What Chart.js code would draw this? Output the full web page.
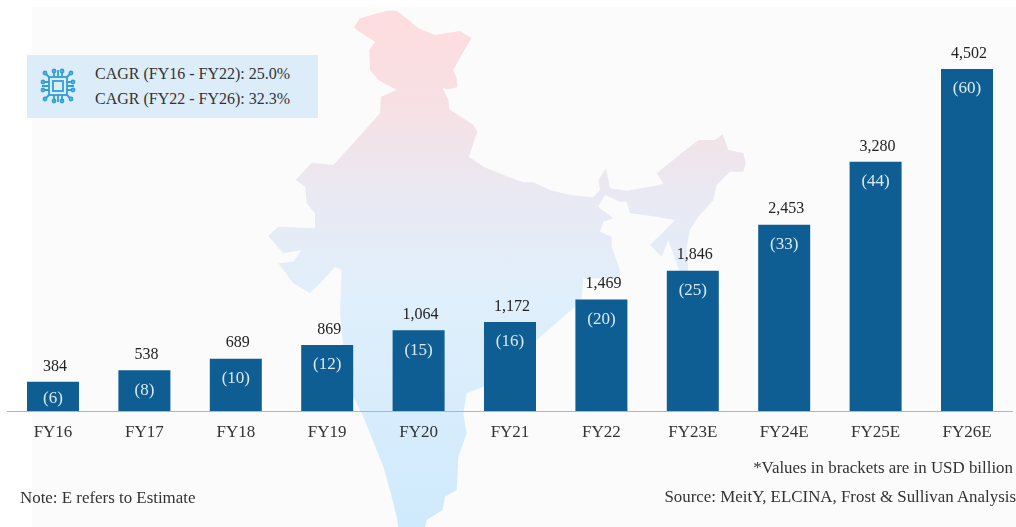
<!DOCTYPE html>
<html>
<head>
<meta charset="utf-8">
<title>Chart</title>
<script src="https://cdn.jsdelivr.net/npm/chart.js@4/dist/chart.umd.min.js"></script>
<style>
  html, body { margin: 0; padding: 0; background: #fff; }
  #stage { position: relative; width: 1016px; height: 527px; overflow: hidden; font-family: "Liberation Serif", serif; color: #333; }
  #paper { position: absolute; left: 32px; top: 7px; right: 0; bottom: 0; background: #fbfbfb; }
  #map { position: absolute; left: 0; top: 0; }
  #chart { position: absolute; left: 0; top: 0; }
  .cagr { position: absolute; left: 27px; top: 55px; width: 291px; height: 63px; background: #dcedf9; }
  .cagr svg { position: absolute; left: 12px; top: 12px; }
  .cagr div { position: absolute; left: 68px; font-size: 16px; line-height: 20px; white-space: nowrap; }
  .note { position: absolute; white-space: nowrap; line-height: 20px; font-size: 16.9px; }
</style>
</head>
<body>
<div id="stage">
  <div id="paper"></div>

  <!-- India silhouette behind the bars -->
  <svg id="map" width="1016" height="527">
    <defs>
      <linearGradient id="mapFill" x1="0" y1="0" x2="0" y2="1">
        <stop offset="0" stop-color="#fedcdf"/>
        <stop offset="0.18" stop-color="#f7e0e4"/>
        <stop offset="0.36" stop-color="#e9e9f3"/>
        <stop offset="0.55" stop-color="#e0effb"/>
        <stop offset="1" stop-color="#cfeafd"/>
      </linearGradient>
    </defs>
    <polygon fill="url(#mapFill)" transform="translate(250 0) scale(0.33333)" points="
      312,82 330,55 375,42 410,32 440,32 470,55 505,85 555,105 630,93 665,115 640,155 610,210 620,235 622,262
      595,268 578,265 595,300 598,328 625,345 670,375 682,395 670,430 657,470 700,500 760,525 820,547 850,547
      900,570 960,585 1030,592 1050,570 1045,540 1068,505 1080,565 1130,572 1230,555 1240,550 1220,520 1300,455
      1345,420 1395,420 1418,403 1435,450 1480,460 1487,490 1480,515 1440,515 1400,555 1390,600 1345,650 1320,690
      1310,740 1315,815 1290,815 1280,790 1255,720 1235,770 1200,735 1275,660 1220,650 1140,640 1130,605 1110,605
      1065,585 1045,620 1090,655 1060,665 1050,695 1085,710 1085,740 1110,810 1108,835 1000,835 995,895 975,920
      860,1020 700,1160 650,1180 640,1240 650,1300 625,1370 620,1470 585,1490 578,1530 530,1560 525,1581 445,1581
      440,1550 425,1490 400,1400 340,1250 310,1190 280,1040 270,940 275,810 255,800 215,845 180,880 130,850 85,790
      130,785 155,750 100,760 65,720 55,708 85,680 195,685 195,640 170,610 165,560 137,540 185,488 250,495 300,440
      390,340 393,290 440,270 385,240 360,210 358,150 375,125 320,90"/>
  </svg>

  <canvas id="chart" width="1016" height="527"></canvas>

  <div class="cagr">
    <svg width="38" height="38" viewBox="0 0 38 38" fill="none" stroke="#2f9ed8" stroke-width="1.8">
      <rect x="10" y="10" width="18" height="18"/>
      <rect x="14" y="14" width="10" height="10"/>
      <path d="M15 10V5M19 10V3M23 10V5M15 28V33M19 28V35M23 28V33M10 15H5M10 19H3M10 23H5M28 15H33M28 19H35M28 23H33"/>
      <path d="M10 10L7 7M28 10L31 7M10 28L7 31M28 28L31 31"/>
      <circle cx="15" cy="4" r="1.5"/><circle cx="23" cy="4" r="1.5"/><circle cx="15" cy="34" r="1.5"/><circle cx="23" cy="34" r="1.5"/>
      <circle cx="4" cy="15" r="1.5"/><circle cx="4" cy="23" r="1.5"/><circle cx="34" cy="15" r="1.5"/><circle cx="34" cy="23" r="1.5"/>
      <circle cx="6" cy="6" r="1.5"/><circle cx="32" cy="6" r="1.5"/><circle cx="6" cy="32" r="1.5"/><circle cx="32" cy="32" r="1.5"/>
    </svg>
    <div style="top:9px">CAGR (FY16 - FY22): 25.0%</div>
    <div style="top:34px">CAGR (FY22 - FY26): 32.3%</div>
  </div>

  <div class="note" style="right:3px; top:458px">*Values in brackets are in USD billion</div>
  <div class="note" style="right:0; top:487px">Source: MeitY, ELCINA, Frost &amp; Sullivan Analysis</div>
  <div class="note" style="left:20px; top:488px">Note: E refers to Estimate</div>
</div>

<script>
// --- Chart data ---
const categories = ['FY16', 'FY17', 'FY18', 'FY19', 'FY20', 'FY21', 'FY22', 'FY23E', 'FY24E', 'FY25E', 'FY26E'];
const marketValues = [384, 538, 689, 869, 1064, 1172, 1469, 1846, 2453, 3280, 4502];
const usdValues = [6, 8, 10, 12, 15, 16, 20, 25, 33, 44, 60];
const yMax = 5410;

const serif = '"Liberation Serif", serif';

// draws the number above each bar and the USD figure inside it
const barLabels = {
  id: 'barLabels',
  afterDatasetsDraw(chart) {
    const ctx = chart.ctx;
    const bars = chart.getDatasetMeta(0).data;
    ctx.save();
    ctx.textAlign = 'center';
    ctx.textBaseline = 'middle';
    bars.forEach((bar, i) => {
      ctx.font = '16px ' + serif;
      ctx.fillStyle = '#222';
      ctx.fillText(marketValues[i].toLocaleString('en-US'), bar.x + 2, bar.y - 15.5);

      ctx.font = '17px ' + serif;
      ctx.fillStyle = '#dbe9f2';
      const drop = Math.min(20, (bar.base - bar.y) / 2 + 2);
      ctx.fillText('(' + usdValues[i] + ')', bar.x, bar.y + drop);
    });
    ctx.restore();
  }
};

new Chart(document.getElementById('chart'), {
  type: 'bar',
  data: {
    labels: categories,
    datasets: [{
      data: marketValues,
      backgroundColor: '#0f5e93',
      barPercentage: 0.569,
      categoryPercentage: 1
    }]
  },
  options: {
    responsive: false,
    animation: false,
    layout: { padding: { left: 7.3, right: 3.3, top: 0, bottom: 0 } },
    plugins: {
      legend: { display: false },
      tooltip: { enabled: false }
    },
    scales: {
      x: {
        afterFit(scale) { scale.height = 116; },
        grid: { display: false },
        border: { color: '#b5b5b5', width: 1 },
        ticks: {
          color: '#333',
          padding: 3,
          maxRotation: 0,
          autoSkip: false,
          font: { family: serif, size: 17 }
        }
      },
      y: { display: false, min: 0, max: yMax }
    }
  },
  plugins: [barLabels]
});
</script>
</body>
</html>
